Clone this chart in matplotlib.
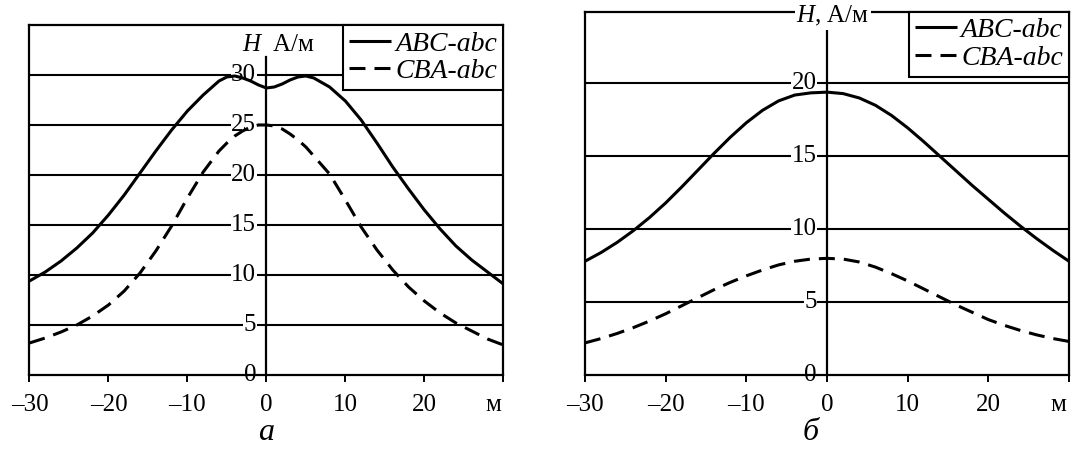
import matplotlib
matplotlib.use("Agg")
import matplotlib.pyplot as plt

plt.rcParams['font.family'] = ['Liberation Serif', 'DejaVu Serif']
plt.rcParams['mathtext.fontset'] = 'custom'
plt.rcParams['mathtext.it'] = 'Liberation Serif:italic'
plt.rcParams['mathtext.rm'] = 'Liberation Serif'
plt.rcParams['lines.scale_dashes'] = False

# distance from the line axis, m (panel а)
x_a = [-30, -28, -26, -24, -22, -20, -18, -16, -14, -12, -10, -8, -6, -5, -4,
       -3, -2, -1, 0, 1, 2, 3, 4, 5, 6, 8, 10, 12, 14, 16, 18, 20, 22, 24, 26,
       28, 30]
# magnetic field strength H, A/m (panel а)
abc_a = [9.4, 10.3, 11.4, 12.7, 14.2, 16.0, 18.0, 20.2, 22.4, 24.5, 26.4,
         28.0, 29.4, 29.8, 29.9, 29.7, 29.4, 29.0, 28.7, 28.8, 29.1, 29.5,
         29.8, 29.9, 29.7, 28.8, 27.4, 25.5, 23.2, 20.8, 18.6, 16.5, 14.6,
         12.9, 11.5, 10.3, 9.1]
cba_a = [3.2, 3.7, 4.3, 5.0, 5.9, 7.0, 8.4, 10.2, 12.4, 14.9, 17.7, 20.3,
         22.4, 23.2, 23.9, 24.4, 24.8, 25.0, 25.0, 24.9, 24.6, 24.1, 23.5,
         22.8, 21.9, 20.1, 17.5, 14.8, 12.5, 10.5, 8.8, 7.4, 6.2, 5.2, 4.4,
         3.6, 3.0]

# distance from the line axis, m (panel б)
x_b = [-30, -28, -26, -24, -22, -20, -18, -16, -14, -12, -10, -8, -6, -4, -2,
       0, 2, 4, 6, 8, 10, 12, 14, 16, 18, 20, 22, 24, 26, 28, 30]
# magnetic field strength H, A/m (panel б)
abc_b = [7.8, 8.4, 9.1, 9.9, 10.8, 11.8, 12.9, 14.05, 15.2, 16.3, 17.3, 18.15,
         18.8, 19.2, 19.35, 19.4, 19.3, 19.0, 18.5, 17.8, 16.95, 16.0, 15.0,
         14.0, 13.0, 12.05, 11.1, 10.2, 9.35, 8.55, 7.8]
cba_b = [2.2, 2.5, 2.85, 3.25, 3.7, 4.2, 4.75, 5.3, 5.85, 6.35, 6.8, 7.2,
         7.55, 7.8, 7.95, 8.0, 7.95, 7.75, 7.4, 6.95, 6.45, 5.9, 5.35, 4.8,
         4.3, 3.8, 3.4, 3.05, 2.75, 2.5, 2.3]

x_ticks = [-30, -20, -10, 0, 10, 20, 30]
x_tick_labels = ['\u201330', '\u201320', '\u201310', '0', '10', '20', '']
x_unit = 'м'
y_ticks_a = [0, 5, 10, 15, 20, 25, 30]
y_ticks_b = [0, 5, 10, 15, 20]
series_labels = ['ABC-abc', 'CBA-abc']
panel_labels = ['а', 'б']

fig = plt.figure(figsize=(10.72, 4.5), dpi=100)
ax_a = fig.add_axes([0.0275, 0.1667, 0.4420, 0.7778])
ax_b = fig.add_axes([0.5457, 0.1667, 0.4515, 0.8074])

TICK_LEN = 5
TICK_PAD = 8.5


def draw_panel(ax, x, abc, cba, yticks, ytop, ylabel, ylabel_pos, axis_top,
               label_on_frame, panel_label, panel_label_pos):
    ax.set_xlim(-30, 30)
    ax.set_ylim(0, ytop)
    for s in ax.spines.values():
        s.set_linewidth(1.6)
        s.set_color('black')
    # horizontal grid lines
    for v in yticks[1:]:
        ax.axhline(v, color='black', lw=1.5, zorder=1)
    # vertical H axis through x = 0 with its ticks and labels
    ax.plot([0, 0], [0, axis_top], color='black', lw=1.6, zorder=1,
            clip_on=False)
    for v in yticks:
        ax.plot([-1.2, 0.8], [v, v], color='black', lw=1.4, zorder=1)
        ax.text(-1.3, v, str(v), ha='right', va='center', fontsize=18,
                zorder=2, bbox=dict(facecolor='white', edgecolor='none',
                                    pad=0.3))
    ax.set_yticks([])
    ax.set_xticks(x_ticks)
    ax.set_xticklabels(x_tick_labels, fontsize=18)
    ax.tick_params(axis='x', direction='out', length=TICK_LEN, width=1.4,
                   pad=TICK_PAD)
    ax.annotate(x_unit, xy=(28.7, 0), xycoords=('data', 'axes fraction'),
                xytext=(0, -(TICK_LEN + TICK_PAD)), textcoords='offset points',
                ha='center', va='top', fontsize=18)

    l1, = ax.plot(x, abc, color='black', lw=2.2, zorder=3,
                  solid_joinstyle='round', solid_capstyle='butt')
    l2, = ax.plot(x, cba, color='black', lw=2.2, zorder=3,
                  dashes=(11.5, 6.5), dash_capstyle='butt',
                  dash_joinstyle='round')
    leg = ax.legend([l1, l2], series_labels, loc='upper right',
                    borderaxespad=0, fancybox=False, framealpha=1,
                    edgecolor='black', prop={'style': 'italic', 'size': 20},
                    handlelength=1.5, handletextpad=0.15, borderpad=0.22,
                    labelspacing=0.08)
    leg.get_frame().set_linewidth(1.5)
    leg.set_zorder(5)

    bbox = (dict(facecolor='white', edgecolor='none', pad=1)
            if label_on_frame else None)
    ax.text(ylabel_pos[0], ylabel_pos[1], ylabel, ha='center', va='center',
            fontsize=18, zorder=6, bbox=bbox, clip_on=False)
    ax.text(panel_label_pos[0], panel_label_pos[1], panel_label,
            transform=ax.get_xaxis_transform(), ha='center', va='baseline',
            fontsize=23, style='italic')


draw_panel(ax_a, x_a, abc_a, cba_a, y_ticks_a, 35.0, '$H$  А/м', (1.5, 33.0),
           31.8, False, panel_labels[0], (0, -0.186))
draw_panel(ax_b, x_b, abc_b, cba_b, y_ticks_b, 24.92, '$H$, А/м', (0.7, 24.6),
           23.7, True, panel_labels[1], (-2, -0.179))

fig.savefig('out.png', dpi=100, facecolor='white')
